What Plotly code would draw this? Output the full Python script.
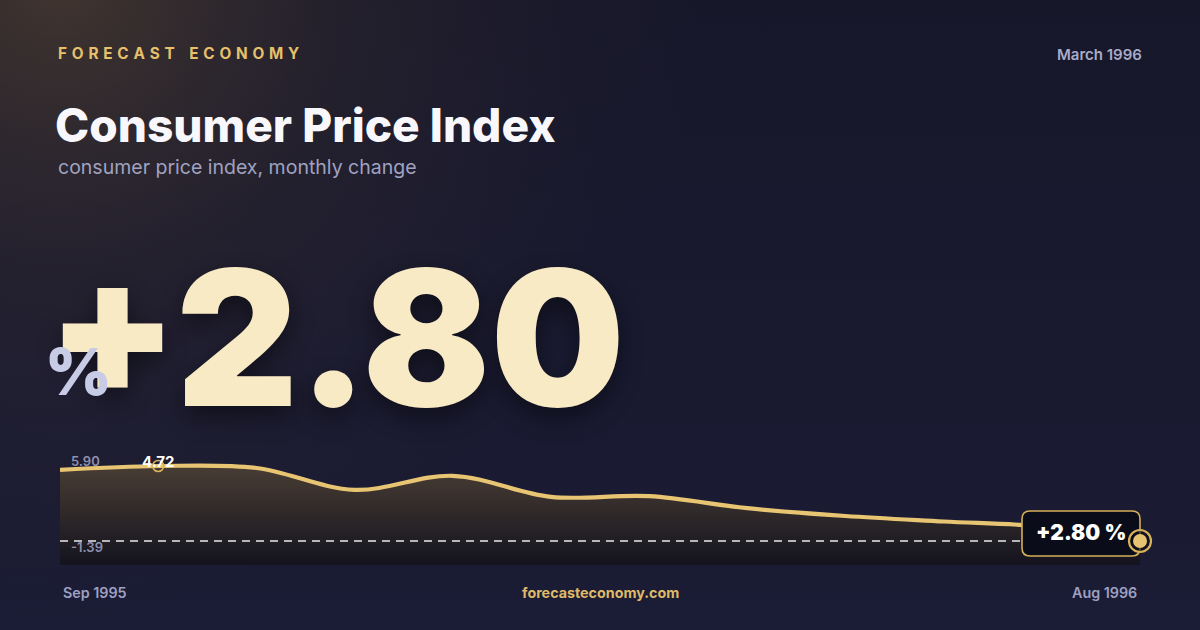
import base64
import plotly.graph_objects as go

# ---- data ----
months = ["Sep 1995", "Oct 1995", "Nov 1995", "Dec 1995", "Jan 1996", "Feb 1996",
          "Mar 1996", "Apr 1996", "May 1996", "Jun 1996", "Jul 1996", "Aug 1996"]
cpi_change = [4.62, 4.72, 4.67, 4.11, 4.47, 3.93, 3.95, 3.64, 3.44, 3.30, 3.17, 2.80]
range_labels = ["5.90", "-1.39"]
y_range = [2.186, 5.258]

W, H = 1200, 630
GOLD = "#e8c572"
FONT = "Inter"
X_DOM = [60 / W, 1140 / W]
Y_DOM = [(H - 565) / H, (H - 445) / H]


def P(x, y):
    return x / W, 1 - y / H


n = len(months)
idx = list(range(n))
last = cpi_change[-1]
imax = cpi_change.index(max(cpi_change))


def data_to_paper(i, v):
    """Map a data point to paper coordinates through the axis range/domain."""
    px = X_DOM[0] + (i - 0) / (n - 1) * (X_DOM[1] - X_DOM[0])
    py = Y_DOM[0] + (v - y_range[0]) / (y_range[1] - y_range[0]) * (Y_DOM[1] - Y_DOM[0])
    return px, py


# background (gradient) as inline svg image
svg = f"""<svg xmlns='http://www.w3.org/2000/svg' width='{W}' height='{H}'>
<defs>
<linearGradient id='b' x1='0' y1='0' x2='0' y2='1'>
<stop offset='0' stop-color='#17172a'/><stop offset='1' stop-color='#1b1c35'/>
</linearGradient>
<radialGradient id='g' gradientUnits='userSpaceOnUse' cx='60' cy='-20' r='640'>
<stop offset='0' stop-color='#4f3f30' stop-opacity='0.75'/>
<stop offset='0.45' stop-color='#3a3030' stop-opacity='0.35'/>
<stop offset='1' stop-color='#2a2530' stop-opacity='0'/>
</radialGradient>
</defs>
<rect width='{W}' height='{H}' fill='url(#b)'/>
<rect width='{W}' height='{H}' fill='url(#g)'/>
</svg>"""
bg_uri = "data:image/svg+xml;base64," + base64.b64encode(svg.encode()).decode()

fig = go.Figure()

fig.add_trace(go.Scatter(
    x=idx, y=cpi_change, mode="lines",
    line=dict(color=GOLD, width=4.2, shape="spline", smoothing=1.0),
    fill="tozeroy",
    fillgradient=dict(type="vertical", start=y_range[0], stop=max(cpi_change),
                      colorscale=[[0, "rgb(20,19,30)"], [1, "rgb(72,61,52)"]]),
    hoverinfo="skip", showlegend=False,
))

fig.add_trace(go.Scatter(
    x=idx, y=[last] * n, mode="lines",
    line=dict(color="rgba(255,255,255,0.9)", width=1.3, dash="8px,6px"),
    hoverinfo="skip", showlegend=False,
))

fig.add_trace(go.Scatter(
    x=[idx[imax]], y=[cpi_change[imax]], mode="markers",
    marker=dict(symbol="circle-open", size=11, color="#d9b25c", line=dict(width=1.6)),
    hoverinfo="skip", showlegend=False,
))

shapes = []
# badge with rounded corners
bx0, by0, bx1, by1, r = 1022, 511, 1140, 556, 8
def pt(x, y):
    X, Y = P(x, y)
    return f"{X:.5f},{Y:.5f}"
path = (f"M {pt(bx0 + r, by0)} L {pt(bx1 - r, by0)} Q {pt(bx1, by0)} {pt(bx1, by0 + r)} "
        f"L {pt(bx1, by1 - r)} Q {pt(bx1, by1)} {pt(bx1 - r, by1)} "
        f"L {pt(bx0 + r, by1)} Q {pt(bx0, by1)} {pt(bx0, by1 - r)} "
        f"L {pt(bx0, by0 + r)} Q {pt(bx0, by0)} {pt(bx0 + r, by0)} Z")
shapes.append(dict(type="path", xref="paper", yref="paper", path=path,
                   fillcolor="#0b0c19", line=dict(color="#d4ae58", width=1.6), layer="above"))
# end marker anchored on last data point (paper coords so it is not clipped)
ex, ey = data_to_paper(idx[-1], last)
shapes.append(dict(type="circle", xref="paper", yref="paper", xsizemode="pixel", ysizemode="pixel",
                   xanchor=ex, yanchor=ey, x0=-11, x1=11, y0=-11, y1=11,
                   fillcolor="rgba(11,12,25,0.6)", line=dict(color="#d6b25a", width=2.2),
                   layer="above"))
shapes.append(dict(type="circle", xref="paper", yref="paper", xsizemode="pixel", ysizemode="pixel",
                   xanchor=ex, yanchor=ey, x0=-7, x1=7, y0=-7, y1=7,
                   fillcolor="#e6c46f", line=dict(width=0), layer="above"))

ann = []
def text(x, y, s, size, color, weight=400, xanchor="left", **kw):
    X, Y = P(x, y)
    ann.append(dict(x=X, y=Y, xref="paper", yref="paper", text=s, showarrow=False,
                    xanchor=xanchor, yanchor="middle",
                    font=dict(family=FONT, size=size, color=color, weight=weight), **kw))

ts = "\u2009"
brand = (ts * 2).join("FORECAST") + ts * 6 + (ts * 2).join("ECONOMY")
text(56, 53, brand, 15.3, "#e6c06a", 700)
text(1144, 54, "March 1996", 15, "#a9abc8", 600, xanchor="right")
text(53, 125, "Consumer Price Index", 46, "#f8f8fc", 800)
text(56, 167, "consumer price index, monthly change", 19.5, "#a0a2c0", 400)
text(45, 337, f"+{last:.2f}", 189, "#f8eac4", 900)
ann[-1]["font"]["shadow"] = "0px 10px 24px rgba(0,0,0,0.45)"
text(78, 371, "%", 64, "#c8cbe6", 900, xanchor="center")
text(69, 461, range_labels[0], 13, "#8d90b0", 600)
text(69, 547, range_labels[1], 13, "#8d90b0", 600)
text(61, 592, months[0], 14.3, "#9ea0c2", 600)
text(1139, 592, months[-1], 14.3, "#9ea0c2", 600, xanchor="right")
text(600, 592, "forecasteconomy.com", 14.3, "#dfb968", 700, xanchor="center")
text(1081, 532, f"+{last:.2f} %", 21, "#ffffff", 900, xanchor="center")

ann.append(dict(x=idx[imax], y=cpi_change[imax], xref="x", yref="y",
                text=f"{cpi_change[imax]:.2f}", showarrow=False,
                xanchor="center", yanchor="middle", yshift=5,
                font=dict(family=FONT, size=15, color="#ffffff", weight=700)))

fig.update_layout(
    width=W, height=H,
    margin=dict(l=0, r=0, t=0, b=0),
    paper_bgcolor="#18192d",
    plot_bgcolor="rgba(0,0,0,0)",
    showlegend=False,
    images=[dict(source=bg_uri, xref="paper", yref="paper", x=0, y=1, sizex=1, sizey=1,
                 sizing="stretch", layer="below")],
    xaxis=dict(domain=X_DOM, range=[0, n - 1], visible=False, fixedrange=True),
    yaxis=dict(domain=Y_DOM, range=y_range, visible=False, fixedrange=True),
    shapes=shapes,
    annotations=ann,
)

fig.write_html("out.html", config={"displayModeBar": False, "staticPlot": True},
               post_script="document.body.style.margin='0';document.body.style.overflow='hidden';")
